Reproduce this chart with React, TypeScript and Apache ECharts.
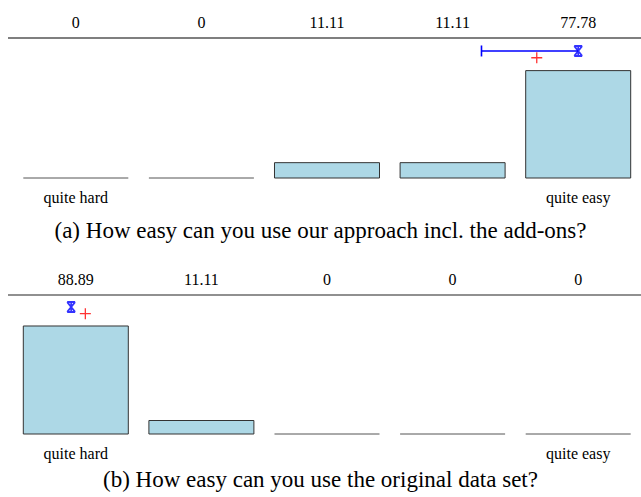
import React, { useEffect, useRef } from "react";
import * as echarts from "echarts";

// ---- data ----
const ratings = [1, 2, 3, 4, 5];
const endLabels = ["quite hard", "", "", "", "quite easy"];
const valuesA = [0, 0, 11.11, 11.11, 77.78];
const valuesB = [88.89, 11.11, 0, 0, 0];
const captionA = "(a) How easy can you use our approach incl. the add-ons?";
const captionB = "(b) How easy can you use the original data set?";
// markers: [rating position, height level]
const medianA = [5, 92.0];
const meanA = [4.67, 87.1];
const intervalA = [4.23, 5, 92.0]; // [low, high, level]
const medianB = [0.963, 104.5];
const meanB = [1.076, 99.0];
const yMaxA = 101.4;
const yMaxB = 114.4;

// ---- layout ----
const FONT = "Liberation Serif";
const GRID_LEFT = 13;
const GRID_WIDTH = 634;
const A_TOP = 38;
const A_HEIGHT = 140;
const B_TOP = 295;
const B_HEIGHT = 139;
const BAR_W = 0.836;

const fmt = (v: number) => (v === 0 ? "0" : v.toFixed(2));

const barRender = (params: any, api: any) => {
  const x = api.value(0);
  const v = api.value(1);
  const base = api.coord([x, 0]);
  const top = api.coord([x, v]);
  const w = api.size([BAR_W, 0])[0];
  if (!v) {
    return {
      type: "line",
      shape: { x1: base[0] - w / 2, y1: base[1], x2: base[0] + w / 2, y2: base[1] },
      style: { stroke: "#555", lineWidth: 1 },
    };
  }
  return {
    type: "rect",
    shape: { x: base[0] - w / 2, y: top[1], width: w, height: base[1] - top[1] },
    style: { fill: "#ADD8E6", stroke: "#333", lineWidth: 1 },
  };
};

const errRender = (params: any, api: any) => {
  const lo = api.coord([api.value(0), api.value(2)]);
  const hi = api.coord([api.value(1), api.value(2)]);
  return {
    type: "group",
    children: [
      {
        type: "line",
        shape: { x1: lo[0], y1: lo[1], x2: hi[0], y2: hi[1] },
        style: { stroke: "#0000ff", lineWidth: 1.3 },
      },
      {
        type: "line",
        shape: { x1: lo[0], y1: lo[1] - 5.5, x2: lo[0], y2: lo[1] + 5.5 },
        style: { stroke: "#0000ff", lineWidth: 1.6 },
      },
    ],
  };
};

const STAR = "path://M0,0L8,0M0,10L8,10M0,0L8,10M8,0L0,10M4,0L4,10";
const PLUS = "path://M0,5L10,5M5,0L5,10";

function App() {
  const ref = useRef<HTMLDivElement>(null);
  useEffect(() => {
    if (!ref.current) return;
    const chart = echarts.init(ref.current, null, { renderer: "svg" });
    const valueX = (gridIndex: number) => ({
      type: "value",
      gridIndex,
      min: 0.5,
      max: 5.5,
      show: false,
    });
    const bottomCat = (gridIndex: number) => ({
      type: "category",
      gridIndex,
      position: "bottom",
      data: endLabels,
      axisLine: { show: false },
      axisTick: { show: false },
      axisLabel: { interval: 0, margin: 11, fontFamily: FONT, fontSize: 16, color: "#000" },
    });
    const topCat = (gridIndex: number, vals: number[]) => ({
      type: "category",
      gridIndex,
      position: "top",
      data: vals.map(fmt),
      axisLine: { show: false },
      axisTick: { show: false },
      axisLabel: { interval: 0, margin: 8, fontFamily: FONT, fontSize: 16, color: "#000" },
    });
    const scatter = (xi: number, yi: number, pt: number[], symbol: string, size: number[], color: string, bw: number) => ({
      type: "scatter",
      xAxisIndex: xi,
      yAxisIndex: yi,
      data: [pt],
      symbol,
      symbolSize: size,
      itemStyle: { color: "transparent", borderColor: color, borderWidth: bw },
      silent: true,
    });
    chart.setOption({
      animation: false,
      title: [
        {
          text: captionA,
          left: "center",
          top: 214,
          textStyle: { fontFamily: FONT, fontSize: 23, fontWeight: "normal", color: "#000" },
        },
        {
          text: captionB,
          left: "center",
          top: 463,
          textStyle: { fontFamily: FONT, fontSize: 23, fontWeight: "normal", color: "#000" },
        },
      ],
      grid: [
        { left: GRID_LEFT, width: GRID_WIDTH, top: A_TOP, height: A_HEIGHT },
        { left: GRID_LEFT, width: GRID_WIDTH, top: B_TOP, height: B_HEIGHT },
      ],
      xAxis: [
        valueX(0),
        bottomCat(0),
        topCat(0, valuesA),
        valueX(1),
        bottomCat(1),
        topCat(1, valuesB),
      ],
      yAxis: [
        { type: "value", gridIndex: 0, min: 0, max: yMaxA, show: false },
        { type: "value", gridIndex: 1, min: 0, max: yMaxB, show: false },
      ],
      graphic: [
        {
          type: "line",
          shape: { x1: 8, y1: A_TOP, x2: 641, y2: A_TOP },
          style: { stroke: "#000", lineWidth: 1.2 },
        },
        {
          type: "line",
          shape: { x1: 8, y1: B_TOP, x2: 641, y2: B_TOP },
          style: { stroke: "#222", lineWidth: 1.2 },
        },
      ],
      series: [
        {
          type: "custom",
          xAxisIndex: 0,
          yAxisIndex: 0,
          renderItem: barRender,
          data: ratings.map((r, i) => [r, valuesA[i]]),
          silent: true,
        },
        {
          type: "custom",
          xAxisIndex: 0,
          yAxisIndex: 0,
          renderItem: errRender,
          encode: { x: [0, 1], y: 2 },
          data: [intervalA],
          silent: true,
        },
        scatter(0, 0, medianA, STAR, [8, 10], "#0000ff", 1.8),
        scatter(0, 0, meanA, PLUS, [11, 11], "#ff0000", 1.3),
        {
          type: "custom",
          xAxisIndex: 3,
          yAxisIndex: 1,
          renderItem: barRender,
          data: ratings.map((r, i) => [r, valuesB[i]]),
          silent: true,
        },
        scatter(3, 1, medianB, STAR, [8, 10], "#0000ff", 1.8),
        scatter(3, 1, meanB, PLUS, [11, 11], "#ff0000", 1.3),
      ],
    });
    return () => chart.dispose();
  }, []);
  return (
    <div
      ref={ref}
      style={{ position: "fixed", left: 0, top: 0, width: 641, height: 497, background: "#fff" }}
    />
  );
}

export default App;
